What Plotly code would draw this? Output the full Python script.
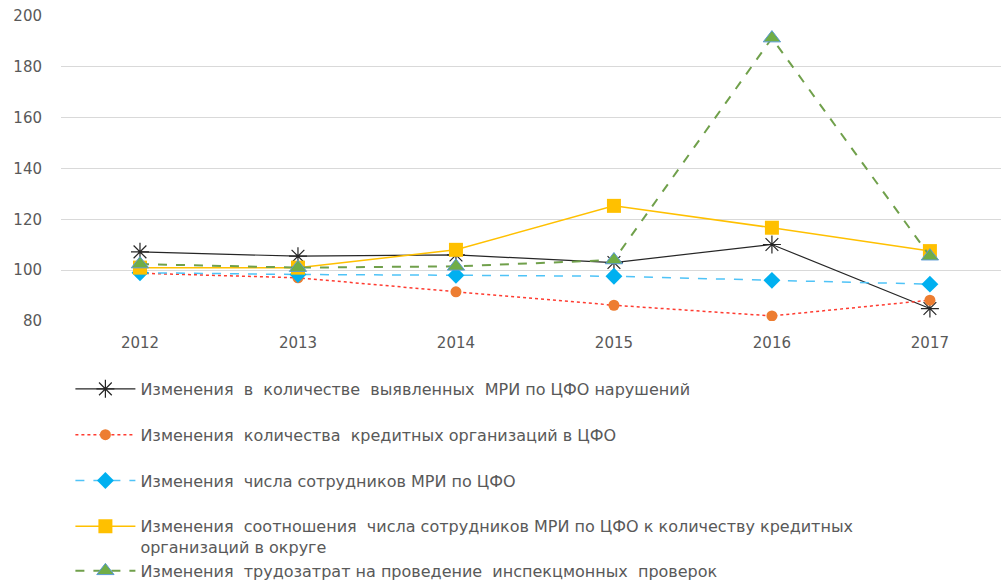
import plotly.graph_objects as go

# Years on the category axis
years = ["2012", "2013", "2014", "2015", "2016", "2017"]

# Index values (%) per series
violations = [107.2, 105.5, 106.0, 103.0, 110.1, 84.9]
credit_orgs = [98.8, 97.0, 91.5, 86.2, 82.0, 88.2]
staff = [99.0, 98.3, 98.0, 97.6, 96.0, 94.5]
staff_per_org = [101.0, 101.0, 108.0, 125.3, 116.7, 107.5]
labour_costs = [102.4, 101.0, 101.5, 104.0, 191.3, 105.5]

names = [
    "Изменения  в  количестве  выявленных  МРИ по ЦФО нарушений",
    "Изменения  количества  кредитных организаций в ЦФО",
    "Изменения  числа сотрудников МРИ по ЦФО",
    "Изменения  соотношения  числа сотрудников МРИ по ЦФО к количеству кредитных<br>организаций в округе",
    "Изменения  трудозатрат на проведение  инспекцмонных  проверок",
]

y_ticks = [80, 100, 120, 140, 160, 180, 200]

TEXT = "#595959"
GRID = "#d9d9d9"
FONT = "DejaVu Sans"

fig = go.Figure()

fig.add_trace(go.Scatter(
    x=years, y=violations, name=names[0], mode="lines+markers",
    line=dict(color="#262626", width=1.2),
    marker=dict(symbol="asterisk-open", size=15, line=dict(color="#1a1a1a", width=1.2)),
    legendgroup="a",
))
fig.add_trace(go.Scatter(
    x=years, y=credit_orgs, name=names[1], mode="lines+markers",
    line=dict(color="#ff3b30", width=1.5, dash="dot"),
    marker=dict(symbol="circle", size=11, color="#ED7D31"),
    legendgroup="b",
))
fig.add_trace(go.Scatter(
    x=years, y=staff, name=names[2], mode="lines+markers",
    line=dict(color="#4fc3f7", width=1.5, dash="dash"),
    marker=dict(symbol="diamond", size=13, color="#00B0F0"),
    legendgroup="c",
))
fig.add_trace(go.Scatter(
    x=years, y=staff_per_org, name=names[3], mode="lines+markers",
    line=dict(color="#FFC000", width=1.5),
    marker=dict(symbol="square", size=14, color="#FFC000"),
    legendgroup="d",
))
# shares the group of the previous entry so it sits right under the two-line label
fig.add_trace(go.Scatter(
    x=years, y=labour_costs, name=names[4], mode="lines+markers",
    line=dict(color="#70A04B", width=2, dash="dash"),
    marker=dict(symbol="triangle-up", size=15, color="#70AD47",
                line=dict(color="#5B9BD5", width=1)),
    legendgroup="d",
))

fig.update_layout(
    width=1001, height=583,
    margin=dict(l=61, r=0, t=16, b=262, autoexpand=False),
    paper_bgcolor="white", plot_bgcolor="white",
    font=dict(family=FONT, color=TEXT, size=15),
    showlegend=True,
    legend=dict(
        x=0.01, y=-0.167, xanchor="left", yanchor="top",
        orientation="v", tracegroupgap=22, valign="top",
        itemwidth=60, font=dict(family=FONT, size=16, color=TEXT),
        bgcolor="rgba(0,0,0,0)", maxheight=600,
    ),
    xaxis=dict(
        type="category", range=[-0.5, 5.45],
        showgrid=False, showline=False, zeroline=False,
        tickfont=dict(size=15, color=TEXT), ticks="", ticklabelstandoff=11,
        tickangle=0,
    ),
    yaxis=dict(
        range=[80, 200], tickvals=y_ticks,
        showgrid=True, gridcolor=GRID, gridwidth=1.2,
        zeroline=False, showline=False, ticks="",
        tickfont=dict(size=15, color=TEXT), ticklabelstandoff=18,
    ),
)

fig.write_html("out.html")
